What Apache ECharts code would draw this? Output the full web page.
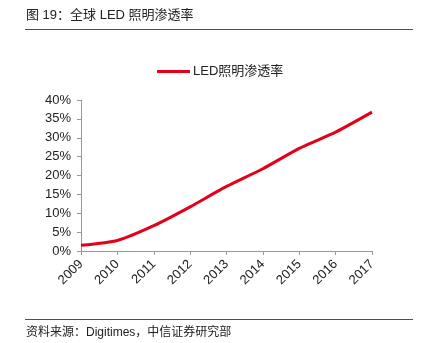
<!DOCTYPE html>
<html>
<head>
<meta charset="utf-8">
<script src="https://cdn.jsdelivr.net/npm/echarts@6/dist/echarts.min.js"></script>
<style>
  html, body { margin: 0; padding: 0; background: #fff; }
  #chart { width: 421px; height: 343px; }
</style>
</head>
<body>
<div id="chart"></div>
<script>
// Global LED lighting penetration rate, 2009-2017
const years = ['2009', '2010', '2011', '2012', '2013', '2014', '2015', '2016', '2017'];
const penetration = [1.5, 2.8, 6.7, 11.7, 17.1, 21.8, 27.2, 31.5, 36.8];
const seriesName = 'LED照明渗透率';
const titleText = '图 19：全球 LED 照明渗透率';
const sourceText = '资料来源：Digitimes，中信证券研究部';

const FONT = '"Liberation Sans", Arial, "Noto Sans CJK SC", sans-serif';
const RED = '#e2001a';
const RULE = '#cc1a22';

const chart = echarts.init(document.getElementById('chart'), null, { renderer: 'canvas' });
chart.setOption({
  backgroundColor: '#fff',
  animation: false,
  textStyle: { fontFamily: FONT },
  graphic: [
    { type: 'text', left: 26, top: 9, style: { text: titleText, font: '13px ' + FONT, fill: '#222' } },
    { type: 'line', shape: { x1: 25, y1: 29.5, x2: 413, y2: 29.5 }, style: { stroke: RULE, lineWidth: 1 } },
    { type: 'line', shape: { x1: 25, y1: 319.5, x2: 413, y2: 319.5 }, style: { stroke: RULE, lineWidth: 1 } },
    { type: 'text', left: 26, top: 327, style: { text: sourceText, font: '12px ' + FONT, fill: '#222' } }
  ],
  legend: {
    top: 65,
    left: 157,
    padding: 0,
    itemWidth: 33,
    itemHeight: 3,
    itemGap: 4,
    icon: 'rect',
    textStyle: { fontSize: 13, color: '#222', fontFamily: FONT, padding: [0, 0, 0, -2] },
    data: [seriesName]
  },
  grid: { left: 81, right: 49, top: 100, bottom: 92, containLabel: false },
  xAxis: {
    type: 'category',
    data: years,
    boundaryGap: false,
    axisLine: { lineStyle: { color: '#999', width: 1 } },
    axisTick: { show: true, alignWithLabel: true, length: 4, lineStyle: { color: '#999' } },
    axisLabel: { rotate: 45, color: '#222', fontSize: 13, margin: 11, fontFamily: FONT },
    splitLine: { show: false }
  },
  yAxis: {
    type: 'value',
    min: 0,
    max: 40,
    interval: 5,
    axisLine: { show: true, lineStyle: { color: '#999', width: 1 } },
    axisTick: { show: true, length: 4, lineStyle: { color: '#999' } },
    axisLabel: { formatter: '{value}%', color: '#222', fontSize: 13, margin: 10, fontFamily: FONT },
    splitLine: { show: false }
  },
  series: [{
    name: seriesName,
    type: 'line',
    data: penetration,
    symbol: 'none',
    smooth: 0.2,
    lineStyle: { color: RED, width: 3 },
    itemStyle: { color: RED }
  }]
});
</script>
</body>
</html>
